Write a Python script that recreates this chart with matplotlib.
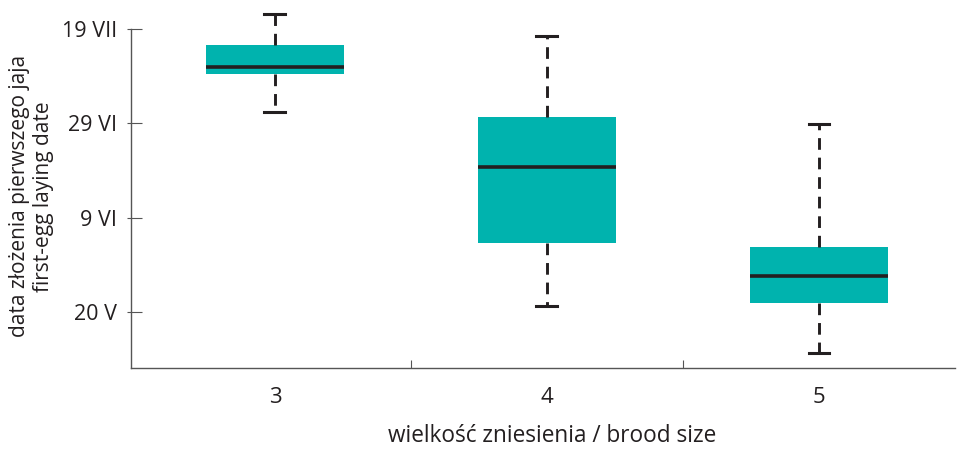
import matplotlib
matplotlib.use("Agg")
import matplotlib.pyplot as plt
from matplotlib.ticker import FixedLocator

plt.rcParams['font.family'] = ['Open Sans', 'DejaVu Sans']

# Brood size categories and first-egg laying date summaries
# (days counted from 20 May)
brood_sizes = [3, 4, 5]
whisker_low = [42.5, 1.3, -8.7]
q1 = [50.5, 14.6, 1.9]
median = [52.0, 30.8, 7.6]
q3 = [56.7, 41.4, 13.8]
whisker_high = [63.3, 58.6, 39.9]

date_ticks = [0, 20, 40, 60]
date_labels = ['20 V', '9 VI', '29 VI', '19 VII']

box_color = '#00b3ae'
ink = '#231f20'

fig = plt.figure(figsize=(9.57, 4.49), dpi=100)
ax = fig.add_axes([131 / 957, 1 - 368 / 449, (955 - 131) / 957, 368 / 449])

stats = []
for i, b in enumerate(brood_sizes):
    stats.append(dict(label=str(b), whislo=whisker_low[i], q1=q1[i], med=median[i],
                      q3=q3[i], whishi=whisker_high[i], fliers=[]))

ax.bxp(stats, positions=brood_sizes, widths=0.507, patch_artist=True,
       showfliers=False, capwidths=0.077,
       boxprops=dict(facecolor=box_color, edgecolor='none', linewidth=0),
       medianprops=dict(color=ink, linewidth=2.6, solid_capstyle='butt'),
       whiskerprops=dict(color=ink, linewidth=2.1, linestyle=(0, (4.0, 2.7))),
       capprops=dict(color=ink, linewidth=2.2))

ax.set_xlim(2.471, 5.5)
ax.set_ylim(-11.9, 66.2)

for s in ['top', 'right']:
    ax.spines[s].set_visible(False)
for s in ['left', 'bottom']:
    ax.spines[s].set_color('#555555')
    ax.spines[s].set_linewidth(1.0)
ax.spines['left'].set_bounds(-11.9, 60)

ax.set_xticks(brood_sizes)
ax.set_xticklabels([str(b) for b in brood_sizes])
ax.xaxis.set_minor_locator(FixedLocator([3.5, 4.5]))
ax.tick_params(axis='x', which='major', length=0, pad=14, labelsize=16, labelcolor=ink)
ax.tick_params(axis='x', which='minor', direction='in', length=6, width=0.8, color='#555555')

ax.set_yticks(date_ticks)
ax.set_yticklabels(date_labels)
ax.yaxis.remove_overlapping_locs = False
ax.yaxis.set_minor_locator(FixedLocator(date_ticks))
ax.tick_params(axis='y', which='major', direction='in', length=8, width=0.8,
               color='#555555', pad=10, labelsize=15.5, labelcolor=ink)
ax.tick_params(axis='y', which='minor', direction='out', length=3, width=0.8, color='#555555')

fig.text(0.033, 0.563, 'data złożenia pierwszego jaja\nfirst-egg laying date',
         rotation=90, ha='center', va='center', multialignment='center',
         fontsize=15, color=ink, linespacing=1.2)
fig.text(0.577, 0.0156, 'wielkość zniesienia / brood size', ha='center', va='baseline',
         fontsize=16.3, color=ink)

fig.savefig('out.png', dpi=100)
